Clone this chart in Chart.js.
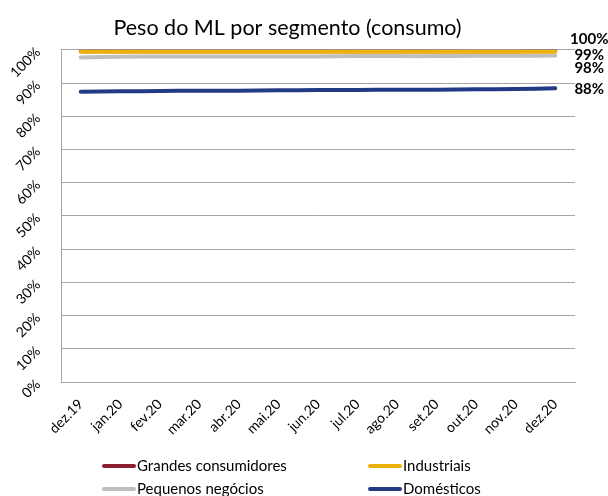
<!DOCTYPE html>
<html>
<head>
<meta charset="utf-8">
<script src="https://cdn.jsdelivr.net/npm/chart.js@4/dist/chart.umd.min.js"></script>
<style>
  html, body { margin: 0; padding: 0; background: #fff; }
  #wrap { position: relative; width: 608px; height: 496px; overflow: hidden; }
  #c { position: absolute; left: 0; top: 0; }
  .legend { position: absolute; font-family: Lato, "Open Sans", sans-serif; font-size: 15px; color: #000; white-space: nowrap; }
  .legend .sw { display: inline-block; width: 34px; height: 4px; border-radius: 2px; vertical-align: middle; margin-right: 1px; position: relative; top: -1px; }
</style>
</head>
<body>
<div id="wrap">
  <canvas id="c" width="608" height="496"></canvas>
  <div id="legend"></div>
</div>
<script>
const categories = ["dez.19","jan.20","fev.20","mar.20","abr.20","mai.20","jun.20","jul.20","ago.20","set.20","out.20","nov.20","dez.20"];
const seriesNames = ["Grandes consumidores", "Industriais", "Pequenos negócios", "Domésticos"];
const grandesConsumidores = [99.6, 99.6, 99.6, 99.6, 99.6, 99.6, 99.6, 99.6, 99.6, 99.6, 99.6, 99.6, 99.7];
const industriais =         [99.4, 99.4, 99.4, 99.4, 99.4, 99.4, 99.4, 99.4, 99.4, 99.4, 99.4, 99.4, 99.4];
const pequenosNegocios =    [97.7, 97.9, 98.0, 98.0, 98.0, 98.0, 98.0, 98.1, 98.1, 98.1, 98.2, 98.2, 98.3];
const domesticos =          [87.4, 87.5, 87.6, 87.7, 87.7, 87.8, 87.9, 87.9, 88.0, 88.0, 88.1, 88.2, 88.4];
const endLabels = ["100%", "99%", "98%", "88%"];
const yTicks = [0, 10, 20, 30, 40, 50, 60, 70, 80, 90, 100];

const colors = ["#8E1F2F", "#EDB10A", "#BFBFBF", "#213A86"];
const drawOrder = [2, 1, 3, 0];
const labelDy = [-12, 3, 13, 1];
const FONT = 'Lato, "Open Sans", sans-serif';

const seriesData = [grandesConsumidores, industriais, pequenosNegocios, domesticos];

const endLabelPlugin = {
  id: 'endLabels',
  afterDatasetsDraw(chart) {
    const ctx = chart.ctx;
    ctx.save();
    ctx.font = 'bold 15px ' + FONT;
    ctx.fillStyle = '#000';
    ctx.textAlign = 'center';
    ctx.textBaseline = 'middle';
    chart.data.datasets.forEach((ds, i) => {
      const meta = chart.getDatasetMeta(i);
      const pt = meta.data[meta.data.length - 1];
      ctx.fillText(endLabels[i], pt.x + 34, pt.y + labelDy[i]);
    });
    ctx.restore();
  }
};

new Chart(document.getElementById('c'), {
  type: 'line',
  data: {
    labels: categories,
    datasets: seriesNames.map((name, i) => ({
      label: name,
      data: seriesData[i],
      borderColor: colors[i],
      backgroundColor: colors[i],
      borderWidth: 4,
      pointRadius: 0,
      tension: 0.3,
      borderCapStyle: 'round',
      order: drawOrder[i],
      fill: false
    }))
  },
  options: {
    responsive: false,
    animation: false,
    layout: { padding: { left: 0, right: 33, top: 12, bottom: 58 } },
    plugins: {
      legend: { display: false },
      tooltip: { enabled: false },
      title: {
        display: true,
        text: 'Peso do ML por segmento (consumo)',
        font: { family: FONT, size: 21.5, weight: 'normal' },
        color: '#000',
        padding: { top: 3, bottom: 9 }
      }
    },
    scales: {
      x: {
        offset: true,
        grid: { display: false, drawTicks: false },
        border: { display: true, color: '#A6A6A6', width: 1 },
        ticks: { minRotation: 45, maxRotation: 45, color: '#000', font: { family: FONT, size: 14 }, padding: 14, autoSkip: false },
        afterFit(scale) { scale.height = 56; }
      },
      y: {
        min: 0, max: 100,
        afterBuildTicks(scale) { scale.ticks = yTicks.map(v => ({ value: v })); },
        grid: { color: '#A6A6A6', lineWidth: 1, drawTicks: false },
        border: { display: true, color: '#A6A6A6', width: 1 },
        ticks: { minRotation: 45, maxRotation: 45, color: '#000', font: { family: FONT, size: 14 }, padding: 23, callback: v => v + '%' },
        afterFit(scale) { scale.width = 61; }
      }
    }
  },
  plugins: [endLabelPlugin]
});

// legend (2 columns, row-major)
const legendEl = document.getElementById('legend');
const legendPos = [[102, 456], [368, 456], [102, 479], [368, 479]];
seriesNames.forEach((name, i) => {
  const d = document.createElement('div');
  d.className = 'legend';
  d.style.left = legendPos[i][0] + 'px';
  d.style.top = legendPos[i][1] + 'px';
  d.innerHTML = '<span class="sw" style="background:' + colors[i] + '"></span>' + name;
  legendEl.appendChild(d);
});
</script>
</body>
</html>
